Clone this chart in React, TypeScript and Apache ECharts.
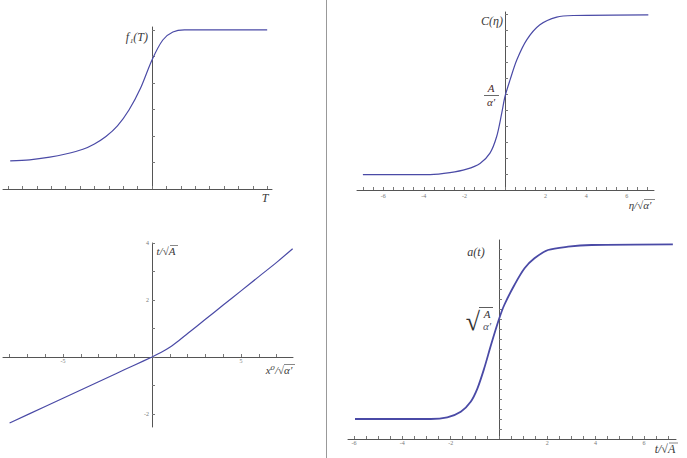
import React, { useEffect, useRef } from 'react';
import * as echarts from 'echarts';

// Panel 1: f1(T)
const f1X = [-1.97, -1.7, -1.42, -1.2, -0.96, -0.8, -0.64, -0.48, -0.32, -0.16, 0, 0.15, 0.29, 0.45, 1.6];
const f1Y = [1.06, 1.1, 1.2, 1.32, 1.5, 1.7, 1.98, 2.38, 2.98, 3.8, 4.87, 5.62, 5.92, 6.0, 6.0];
const f1XTicks = [-2, -1.8, -1.6, -1.4, -1.2, -1, -0.8, -0.6, -0.4, -0.2, 0, 0.2, 0.4, 0.6, 0.8, 1, 1.2, 1.4, 1.6];
const f1YTicks = [1, 2, 3, 4, 5, 6];

// Panel 2: C(eta)
const cX = [-7.0, -3.69, -2.71, -1.89, -1.23, -0.74, -0.41, -0.16, 0, 0.25, 0.58, 1.07, 1.72, 2.55, 3.37, 7.06];
const cY = [0.48, 0.48, 0.54, 0.65, 0.83, 1.15, 1.67, 2.4, 2.92, 3.44, 4.06, 4.69, 5.16, 5.4, 5.45, 5.47];
const cXTicks = [-7, -6.5, -6, -5.5, -5, -4.5, -4, -3.5, -3, -2.5, -2, -1.5, -1, -0.5, 0, 0.5, 1, 1.5, 2, 2.5, 3, 3.5, 4, 4.5, 5, 5.5, 6, 6.5, 7];
const cXLabels = [-6, -4, -2, 2, 4, 6];
const cYTicks = [0.5, 1, 1.5, 2, 2.5, 3, 3.5, 4, 4.5, 5, 5.5];

// Panel 3: t/sqrt(A) vs x0/sqrt(alpha')
const pX = [-8, -6, -4, -2, -1, 0, 0.5, 1, 1.5, 2, 3, 4, 5, 6, 7, 7.9];
const pY = [-2.32, -1.74, -1.16, -0.58, -0.29, 0, 0.155, 0.34, 0.57, 0.82, 1.32, 1.82, 2.32, 2.82, 3.32, 3.8];
const pXTicks = [-8, -7, -6, -5, -4, -3, -2, -1, 0, 1, 2, 3, 4, 5, 6, 7];
const pXLabels = [-5, 5];
const pYTicks = [-2, -1, 0, 1, 2, 3, 4];
const pYLabels = [-2, 2, 4];

// Panel 4: a(t)
const aX = [-5.96, -2.83, -2.14, -1.58, -1.17, -0.89, -0.61, -0.33, 0, 0.22, 0.64, 1.06, 1.47, 2.03, 2.86, 3.83, 7.2];
const aY = [1.0, 1.0, 1.085, 1.365, 1.865, 2.535, 3.535, 4.7, 5.985, 6.7, 7.7, 8.535, 9.035, 9.45, 9.615, 9.7, 9.735];
const aXTicks = [-6, -5.5, -5, -4.5, -4, -3.5, -3, -2.5, -2, -1.5, -1, -0.5, 0, 0.5, 1, 1.5, 2, 2.5, 3, 3.5, 4, 4.5, 5, 5.5, 6, 6.5, 7];
const aXLabels = [-6, -4, -2, 2, 4, 6];
const aYTicks = [0.5, 1, 1.5, 2, 2.5, 3, 3.5, 4, 4.5, 5, 5.5, 6, 6.5, 7, 7.5, 8, 8.5, 9, 9.5];

const CURVE = '#4a4aa6';
const AXIS = '#555555';
const SERIF = '"Liberation Serif", "DejaVu Serif", serif';

function pairs(xs: number[], ys: number[]) {
  return xs.map((x, i) => [x, ys[i]]);
}

function mkAxis(gi: number, min: number, max: number, ticks: number[], labels: number[], margin: number, offset?: number) {
  const useOffset = offset !== undefined;
  return {
    type: 'value',
    gridIndex: gi,
    min,
    max,
    offset: useOffset ? offset : 0,
    axisLine: { show: true, onZero: !useOffset, lineStyle: { color: AXIS, width: 1 } },
    axisTick: { show: true, inside: true, length: 3, customValues: ticks, lineStyle: { color: '#777', width: 1 } },
    axisLabel: labels.length
      ? { show: true, customValues: labels, fontSize: 6, color: '#777', margin, fontFamily: SERIF }
      : { show: false },
    splitLine: { show: false },
  };
}

function txt(text: string, x: number, y: number, size: number, align: string = 'center', italic = true, fill = '#3a3a3a') {
  return {
    type: 'text',
    x,
    y,
    silent: true,
    style: {
      text,
      fontSize: size,
      fontFamily: SERIF,
      fontStyle: italic ? 'italic' : 'normal',
      fill,
      align,
      verticalAlign: 'middle',
    },
  };
}

function ln(x1: number, y1: number, x2: number, y2: number, stroke = '#444', w = 0.8) {
  return { type: 'line', silent: true, shape: { x1, y1, x2, y2 }, style: { stroke, lineWidth: w } };
}

export default function App() {
  const ref = useRef<HTMLDivElement>(null);
  useEffect(() => {
    const chart = echarts.init(ref.current!, null, { renderer: 'svg' });
    const g = (left: number, top: number, width: number, height: number) => ({
      left, top, width, height, containLabel: false, outerBoundsMode: 'none',
    });
    chart.setOption({
      animation: false,
      backgroundColor: '#ffffff',
      grid: [
        g(3, 27, 269, 162),
        g(357, 12, 297, 178),
        g(3, 243, 290, 184),
        g(348, 240, 328, 199),
      ],
      xAxis: [
        mkAxis(0, -2.07, 1.667, f1XTicks, [], 2),
        mkAxis(1, -7.29, 7.34, cXTicks, cXLabels, 3),
        mkAxis(2, -8.37, 7.92, pXTicks, pXLabels, 1, -70),
        mkAxis(3, -6.25, 7.33, aXTicks, aXLabels, 1),
      ],
      yAxis: [
        mkAxis(0, 0, 6.11, f1YTicks, [], 2),
        mkAxis(1, 0, 5.56, cYTicks, [], 2),
        mkAxis(2, -2.46, 4.0, pYTicks, pYLabels, 3, -149),
        mkAxis(3, 0, 9.95, aYTicks, [], 2),
      ],
      series: [
        { data: pairs(f1X, f1Y), w: 1.2 },
        { data: pairs(cX, cY), w: 1.2 },
        { data: pairs(pX, pY), w: 1.2 },
        { data: pairs(aX, aY), w: 1.8 },
      ].map((s, i) => ({
        type: 'line',
        xAxisIndex: i,
        yAxisIndex: i,
        data: s.data,
        showSymbol: false,
        smooth: 0.3,
        lineStyle: { color: CURVE, width: s.w },
        silent: true,
      })),
      graphic: [
        ln(326.5, 0, 326.5, 458, '#999999', 1),
        // panel 1
        txt('f\u2081(T)', 148, 37, 12, 'right'),
        txt('T', 265, 198, 12),
        // panel 2
        txt('C(\u03b7)', 503, 21, 12, 'right'),
        txt('A', 491, 88, 11, 'center', true, '#4a2a2a'),
        ln(484, 95.5, 499, 95.5, '#444', 0.8),
        txt('\u03b1\u2032', 491, 102, 11, 'center', true, '#4a2a2a'),
        txt('\u03b7/\u221a\u03b1\u2032', 640, 205, 11),
        ln(644, 199.5, 655, 199.5, '#555', 0.7),
        // panel 3
        txt('t/\u221aA', 166, 251, 11),
        ln(170, 245.5, 178, 245.5, '#555', 0.7),
        txt('x\u2070/\u221a\u03b1\u2032', 279, 370, 11),
        ln(284, 364.5, 295, 364.5, '#555', 0.7),
        // panel 4
        txt('a(t)', 476, 252, 12, 'center'),
        txt('\u221a', 473, 321, 26, 'center', false, '#333'),
        ln(479, 307.5, 493, 307.5, '#333', 0.8),
        txt('A', 487, 314, 11, 'center', true, '#333'),
        txt('\u03b1\u2032', 487, 326, 11, 'center', true, '#556'),
        txt('t/\u221aA', 665, 449, 12),
        ln(669, 443, 678, 443, '#555', 0.7),
      ],
    });
    return () => chart.dispose();
  }, []);
  return (
    <div
      ref={ref}
      style={{ position: 'fixed', left: 0, top: 0, width: 687, height: 458, background: '#fff' }}
    />
  );
}
